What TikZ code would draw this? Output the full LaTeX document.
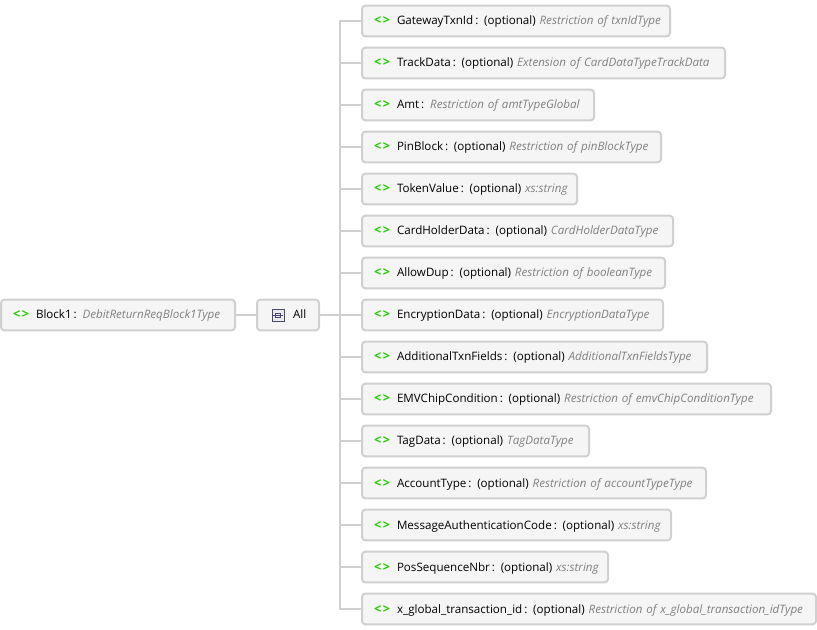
\documentclass[tikz,border=0pt]{standalone}
\usepackage{fontspec}
\setmainfont{Open Sans}
\usepackage{xcolor}
\definecolor{xsdgreen}{RGB}{34,204,0}
\definecolor{xsdgray}{RGB}{128,128,128}
\definecolor{xsdline}{RGB}{208,208,208}
\definecolor{xsdfill}{RGB}{245,245,245}
\definecolor{xsdicon}{RGB}{72,72,110}
\usetikzlibrary{positioning}
\newcommand{\tagmark}{\makebox[17.25pt][l]{\textcolor{xsdgreen}{\fontsize{9.5}{10}\selectfont\bfseries\textless\hspace{1.2pt}\textgreater}}}
\newcommand{\itemtext}[2]{\mbox{\tagmark #1 \textcolor{xsdgray}{\itshape #2}}}
\tikzset{
  itembox/.style={draw=xsdline, fill=xsdfill, line width=1.5pt, rounded corners=2.5pt, anchor=west, outer sep=0pt,
    inner xsep=9pt, inner ysep=0pt, minimum height=23pt, text height=7pt, text depth=1pt, text width=0.75pt*#1-18pt, align=left, font=\fontsize{8.7}{10}\selectfont},
  linkline/.style={draw=xsdline, line width=1.5pt}
}

\begin{document}
\begin{tikzpicture}[x=0.75pt, y=-0.75pt]
  \useasboundingbox (0,0) rectangle (817,630);

  % Left side
  \node[itembox=234] (block) at (1,315) {\itemtext{Block1\hspace{1.5pt}:}{DebitReturnReqBlock1Type}};
  \node[itembox=62] (all) at (257,315) {\hspace*{18pt}All};

  % Child elements
  \node[itembox=308] (gateway) at (362,21) {\itemtext{GatewayTxnId\hspace{1.5pt}: (optional)}{Restriction of txnIdType}};
  \node[itembox=363] (trackdata) at (362,63) {\itemtext{TrackData\hspace{1.5pt}: (optional)}{Extension of CardDataTypeTrackData}};
  \node[itembox=232] (amt) at (362,105) {\itemtext{Amt\hspace{1.5pt}:}{Restriction of amtTypeGlobal}};
  \node[itembox=299] (pinblock) at (362,147) {\itemtext{PinBlock\hspace{1.5pt}: (optional)}{Restriction of pinBlockType}};
  \node[itembox=215] (tokenvalue) at (362,189) {\itemtext{TokenValue\hspace{1.5pt}: (optional)}{xs:string}};
  \node[itembox=311] (cardholder) at (362,231) {\itemtext{CardHolderData\hspace{1.5pt}: (optional)}{CardHolderDataType}};
  \node[itembox=303] (allowdup) at (362,273) {\itemtext{AllowDup\hspace{1.5pt}: (optional)}{Restriction of booleanType}};
  \node[itembox=301] (encryption) at (362,315) {\itemtext{EncryptionData\hspace{1.5pt}: (optional)}{EncryptionDataType}};
  \node[itembox=345] (addtxn) at (362,357) {\itemtext{AdditionalTxnFields\hspace{1.5pt}: (optional)}{AdditionalTxnFieldsType}};
  \node[itembox=409] (emvchip) at (362,399) {\itemtext{EMVChipCondition\hspace{1.5pt}: (optional)}{Restriction of emvChipConditionType}};
  \node[itembox=227] (tagdata) at (362,441) {\itemtext{TagData\hspace{1.5pt}: (optional)}{TagDataType}};
  \node[itembox=344] (accounttype) at (362,483) {\itemtext{AccountType\hspace{1.5pt}: (optional)}{Restriction of accountTypeType}};
  \node[itembox=309] (macode) at (362,525) {\itemtext{MessageAuthenticationCode\hspace{1.5pt}: (optional)}{xs:string}};
  \node[itembox=246] (posseq) at (362,567) {\itemtext{PosSequenceNbr\hspace{1.5pt}: (optional)}{xs:string}};
  \node[itembox=454] (globalid) at (362,609) {\itemtext{x\_global\_transaction\_id\hspace{1.5pt}: (optional)}{Restriction of x\_global\_transaction\_idType}};

  % All icon
  \draw[xsdicon, fill=xsdicon!12, line width=0.75pt] (272,309.5) rectangle (284,321.5);
  \draw[xsdicon, line width=0.75pt] (275.5,313.5) rectangle (280.5,317.5);
  \draw[xsdicon, line width=0.75pt] (273,315.5) -- (283,315.5);

  % Connectors
  \coordinate (trunk) at (340,315);
  \draw[linkline] (block.east) -- (all.west);
  \draw[linkline] (all.east) -- (encryption.west);
  \draw[linkline] (trunk) |- (gateway.west);
  \draw[linkline] (trunk) |- (trackdata.west);
  \draw[linkline] (trunk) |- (amt.west);
  \draw[linkline] (trunk) |- (pinblock.west);
  \draw[linkline] (trunk) |- (tokenvalue.west);
  \draw[linkline] (trunk) |- (cardholder.west);
  \draw[linkline] (trunk) |- (allowdup.west);
  \draw[linkline] (trunk) |- (addtxn.west);
  \draw[linkline] (trunk) |- (emvchip.west);
  \draw[linkline] (trunk) |- (tagdata.west);
  \draw[linkline] (trunk) |- (accounttype.west);
  \draw[linkline] (trunk) |- (macode.west);
  \draw[linkline] (trunk) |- (posseq.west);
  \draw[linkline] (trunk) |- (globalid.west);
\end{tikzpicture}
\end{document}
